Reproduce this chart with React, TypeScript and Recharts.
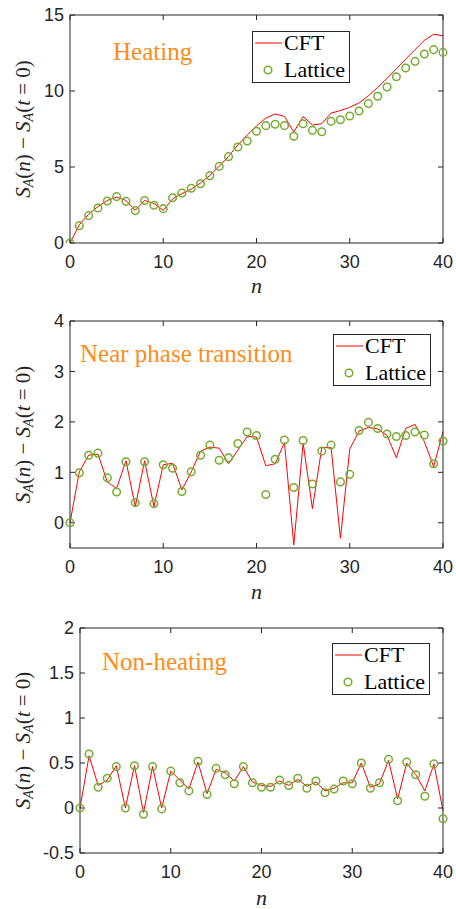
import React from 'react';
import { LineChart, Line, XAxis, YAxis, Legend, Customized } from 'recharts';

// site index n (same for all three panels)
const nValues = [
  0, 1, 2, 3, 4, 5, 6, 7, 8, 9, 10, 11, 12, 13, 14, 15, 16, 17, 18, 19, 20,
  21, 22, 23, 24, 25, 26, 27, 28, 29, 30, 31, 32, 33, 34, 35, 36, 37, 38, 39, 40,
];

const heatingCft = [
  0, 1.2, 1.9, 2.4, 2.8, 3.02, 2.8, 2.15, 2.8, 2.6, 2.15, 2.9, 3.25, 3.55, 3.95, 4.45, 5.05, 5.7, 6.45, 7.1, 7.7,
  8.22, 8.49, 8.33, 7.3, 8.33, 7.76, 7.85, 8.55, 8.71, 8.93, 9.21, 9.69, 10.24, 10.83, 11.47, 12.1, 12.72, 13.33, 13.73, 13.64,
];
const heatingLattice = [
  0, 1.14, 1.8, 2.3, 2.76, 3.05, 2.74, 2.13, 2.8, 2.48, 2.26, 2.98, 3.29, 3.6, 3.9, 4.43, 5.04, 5.68, 6.32, 6.71, 7.35,
  7.72, 7.81, 7.72, 7.02, 7.85, 7.41, 7.32, 8.0, 8.11, 8.36, 8.68, 9.17, 9.65, 10.26, 10.94, 11.51, 11.95, 12.43, 12.72, 12.54,
];

const nearCft = [
  0, 1.01, 1.34, 1.36, 0.81, 0.68, 1.23, 0.32, 1.23, 0.32, 1.15, 1.18, 0.65, 1.01, 1.42, 1.5, 1.48, 1.17, 1.44, 1.71, 1.7,
  1.13, 1.17, 1.59, -0.44, 1.58, 0.28, 1.49, 1.49, -0.31, 1.46, 1.82, 1.89, 1.86, 1.73, 1.29, 1.87, 1.95, 1.61, 1.11, 1.81,
];
const nearLattice = [
  0, 0.99, 1.34, 1.38, 0.89, 0.61, 1.21, 0.4, 1.21, 0.38, 1.15, 1.08, 0.62, 1.01, 1.34, 1.54, 1.24, 1.29, 1.57, 1.8, 1.73,
  0.56, 1.26, 1.64, 0.7, 1.63, 0.77, 1.42, 1.54, 0.81, 0.96, 1.83, 1.99, 1.87, 1.76, 1.71, 1.73, 1.8, 1.74, 1.17, 1.62,
];

const nonHeatingCft = [
  0, 0.58, 0.25, 0.31, 0.47, 0.0, 0.47, -0.05, 0.46, 0.0, 0.41, 0.31, 0.21, 0.51, 0.16, 0.43, 0.39, 0.3, 0.46, 0.29, 0.25,
  0.24, 0.3, 0.25, 0.32, 0.24, 0.29, 0.19, 0.22, 0.28, 0.28, 0.5, 0.23, 0.27, 0.53, 0.1, 0.5, 0.37, 0.19, 0.49, -0.03,
];
const nonHeatingLattice = [
  0, 0.6, 0.23, 0.33, 0.46, 0.0, 0.47, -0.07, 0.46, -0.01, 0.41, 0.28, 0.19, 0.52, 0.15, 0.44, 0.37, 0.27, 0.46, 0.28, 0.23,
  0.23, 0.31, 0.25, 0.33, 0.22, 0.3, 0.17, 0.21, 0.3, 0.27, 0.5, 0.22, 0.28, 0.54, 0.08, 0.51, 0.37, 0.13, 0.49, -0.12,
];

const xTicks = [0, 10, 20, 30, 40];
const heatingTicks = [0, 5, 10, 15];
const nearTicks = [0, 1, 2, 3, 4];
const nonHeatingTicks = [-0.5, 0, 0.5, 1, 1.5, 2];

const AXIS = '#262626';
const CFT_RED = '#FF0000';
const LAT_GREEN = '#77AC30';
const TITLE_ORANGE = '#FF8C1A';
const SERIF = 'Liberation Serif, Tinos, Times New Roman, Times, DejaVu Serif, Noto Serif, serif';
const SANS = "'Liberation Sans', Arial, sans-serif";

const tickStyle = { fontSize: 18, fontFamily: SANS, fill: AXIS };

const NoTick = () => <g />;

const YLabel = (props: any) => {
  const vb = props.viewBox || {};
  const cy = (vb.y ?? 15) + (vb.height ?? 228) / 2;
  return (
    <text
      transform={`translate(23,${cy}) rotate(-90)`}
      textAnchor="middle"
      dominantBaseline="central"
      fontFamily={SERIF}
      fontSize={21}
      fill={AXIS}
    >
      <tspan fontStyle="italic">S</tspan>
      <tspan fontStyle="italic" fontSize={14} dy={5}>A</tspan>
      <tspan dy={-5}>(</tspan>
      <tspan fontStyle="italic">n</tspan>
      <tspan>) − </tspan>
      <tspan fontStyle="italic">S</tspan>
      <tspan fontStyle="italic" fontSize={14} dy={5}>A</tspan>
      <tspan dy={-5}>(</tspan>
      <tspan fontStyle="italic">t</tspan>
      <tspan> = 0)</tspan>
    </text>
  );
};

const makeXLabel = (offset: number) => (props: any) => {
  const vb = props.viewBox || {};
  return (
    <text
      x={(vb.x ?? 70) + (vb.width ?? 373) / 2}
      y={(vb.y ?? 243) + offset}
      textAnchor="middle"
      fontFamily={SERIF}
      fontStyle="italic"
      fontSize={22}
      fill={AXIS}
    >
      n
    </text>
  );
};

const LegendBox = () => (
  <div
    style={{
      width: 98,
      height: 52,
      boxSizing: 'border-box',
      border: `1px solid ${AXIS}`,
      background: '#fff',
      position: 'relative',
    }}
  >
    <svg width={98} height={52} style={{ position: 'absolute', left: -1, top: -1 }}>
      <line x1={3} x2={30} y1={12} y2={12} stroke={CFT_RED} strokeWidth={1} />
      <circle cx={16} cy={39} r={3.8} fill="none" stroke={LAT_GREEN} strokeWidth={1.5} />
      <text x={32} y={19} fontFamily={SERIF} fontSize={22} fill="#000">CFT</text>
      <text x={32} y={46} fontFamily={SERIF} fontSize={22} fill="#000">Lattice</text>
    </svg>
  </div>
);

interface PanelProps {
  top: number;
  height: number;
  cft: number[];
  lattice: number[];
  domain: [number, number];
  ticks: number[];
  yWidth: number;
  marginBottom: number;
  labelOffset: number;
  title: string;
  titleX: number;
  titleY: number;
  legendLeft: number;
  legendTop: number;
}

const Panel: React.FC<PanelProps> = (p) => {
  const data = nValues.map((n, i) => ({ n, cft: p.cft[i], lat: p.lattice[i] }));
  const XLabel = makeXLabel(p.labelOffset);
  return (
    <div style={{ position: 'absolute', left: 0, top: p.top, width: 456, height: p.height }}>
      <LineChart
        width={456}
        height={p.height}
        data={data}
        margin={{ top: 14, right: 12, left: 10, bottom: p.marginBottom }}
      >
        <XAxis
          dataKey="n"
          type="number"
          domain={[0, 40]}
          ticks={xTicks}
          height={52}
          stroke={AXIS}
          tickSize={-5}
          tickMargin={17}
          tick={tickStyle}
          label={<XLabel />}
        />
        <XAxis
          xAxisId="top"
          orientation="top"
          dataKey="n"
          type="number"
          domain={[0, 40]}
          ticks={xTicks}
          height={1}
          stroke={AXIS}
          tickSize={-5}
          tick={NoTick}
        />
        <YAxis
          type="number"
          domain={p.domain}
          ticks={p.ticks}
          width={p.yWidth}
          stroke={AXIS}
          tickSize={-5}
          tickMargin={11}
          tick={tickStyle}
          allowDataOverflow
          label={<YLabel />}
        />
        <YAxis
          yAxisId="right"
          orientation="right"
          type="number"
          domain={p.domain}
          ticks={p.ticks}
          width={1}
          stroke={AXIS}
          tickSize={-5}
          tick={NoTick}
          allowDataOverflow
        />
        <Line
          dataKey="cft"
          type="linear"
          stroke={CFT_RED}
          strokeWidth={1}
          dot={false}
          activeDot={false}
          isAnimationActive={false}
        />
        <Line
          dataKey="lat"
          type="linear"
          stroke="none"
          dot={{ r: 3.8, stroke: LAT_GREEN, strokeWidth: 1.5, fill: 'none' }}
          activeDot={false}
          isAnimationActive={false}
        />
        <Legend
          layout="vertical"
          align="center"
          verticalAlign="middle"
          content={LegendBox}
          wrapperStyle={{ left: p.legendLeft, top: p.legendTop, width: 98, height: 52 }}
        />
        <Customized
          component={() => (
            <text x={p.titleX} y={p.titleY} fontFamily={SERIF} fontSize={25} fill={TITLE_ORANGE}>
              {p.title}
            </text>
          )}
        />
      </LineChart>
    </div>
  );
};

export default function App() {
  return (
    <div style={{ position: 'absolute', left: 0, top: 0, width: 456, height: 909, background: '#fff' }}>
      <Panel
        top={0}
        height={300}
        cft={heatingCft}
        lattice={heatingLattice}
        domain={[0, 15]}
        ticks={heatingTicks}
        yWidth={60}
        marginBottom={5}
        labelOffset={50}
        title="Heating"
        titleX={113}
        titleY={60}
        legendLeft={252}
        legendTop={31}
      />
      <Panel
        top={306}
        height={300}
        cft={nearCft}
        lattice={nearLattice}
        domain={[-0.5, 4]}
        ticks={nearTicks}
        yWidth={60}
        marginBottom={6}
        labelOffset={51}
        title="Near phase transition"
        titleX={80}
        titleY={56}
        legendLeft={333}
        legendTop={28}
      />
      <Panel
        top={613}
        height={296}
        cft={nonHeatingCft}
        lattice={nonHeatingLattice}
        domain={[-0.5, 2]}
        ticks={nonHeatingTicks}
        yWidth={70}
        marginBottom={4}
        labelOffset={52}
        title="Non-heating"
        titleX={102}
        titleY={57}
        legendLeft={332}
        legendTop={30}
      />
    </div>
  );
}
